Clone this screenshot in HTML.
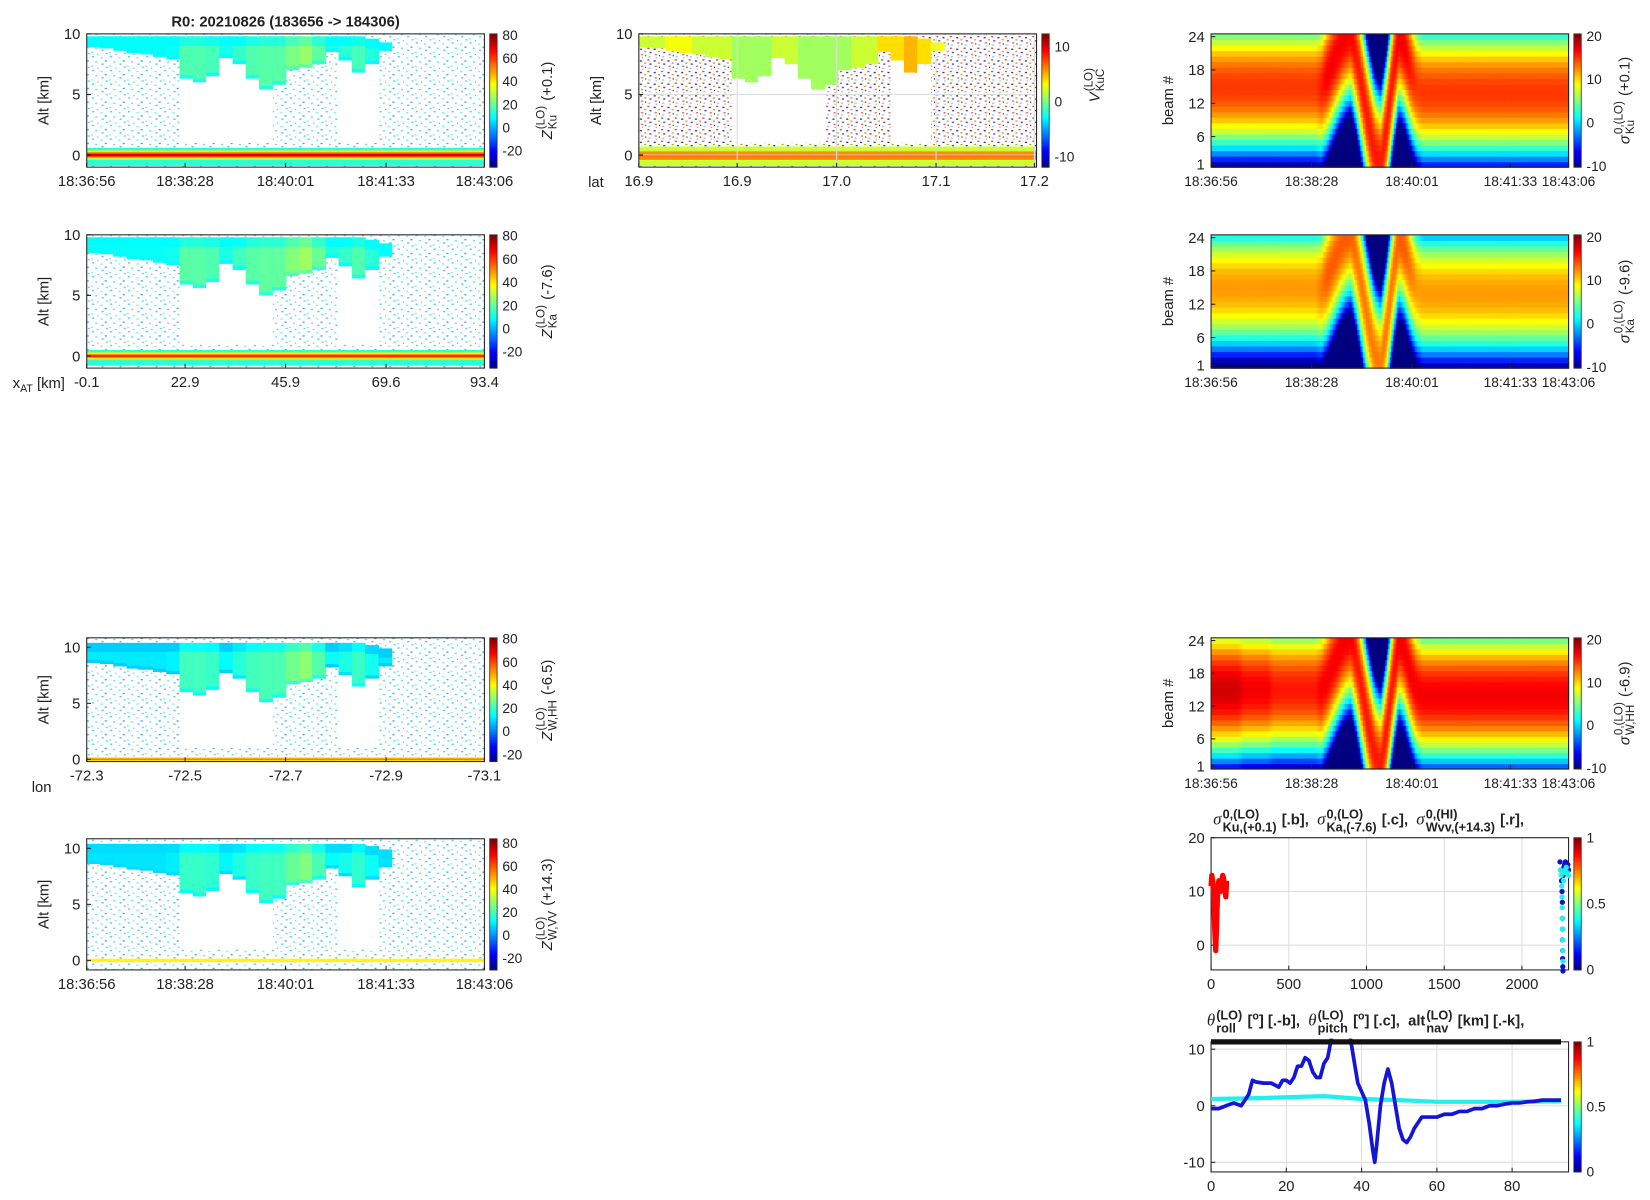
<!DOCTYPE html>
<html><head><meta charset="utf-8"><style>
html,body{margin:0;padding:0;background:#fff;}
#wrap{position:relative;width:1650px;height:1200px;overflow:hidden;}
svg{display:block;position:absolute;left:0;top:0;font-family:"Liberation Sans",Arial,sans-serif;}
#ov{position:absolute;left:0;top:0;width:1560px;height:1135px;transform:scale(1.0577);transform-origin:0 0;font-family:"Liberation Sans",Arial,sans-serif;color:#222;font-size:14px;}
.lb{position:absolute;white-space:nowrap;line-height:1;}
.rot{transform:translate(-50%,-50%) rotate(-90deg);}
.st{display:inline-flex;flex-direction:column;font-size:11px;line-height:11px;vertical-align:middle;margin:0 1px;}
.ti{font-weight:bold;font-size:14px;transform:translate(0,-50%);}
.ti .st{font-size:12px;line-height:12px;}
.g{font-style:italic;font-weight:normal;font-family:"Liberation Serif",serif;font-size:16px;}
</style></head><body>
<div id="wrap">
<svg id="fig" width="1650" height="1200" viewBox="0 0 1560 1134.5" xmlns="http://www.w3.org/2000/svg">
<defs>
<pattern id="spk" width="17" height="13" patternUnits="userSpaceOnUse">
<rect x="2" y="1" width="2" height="1.2" fill="#3cf"/><rect x="10" y="2" width="2" height="1.2" fill="#6ee"/>
<rect x="14" y="5" width="2" height="1.2" fill="#39f"/><rect x="5" y="6" width="2" height="1.2" fill="#5dd"/>
<rect x="11" y="8" width="2" height="1.2" fill="#4bf"/><rect x="1" y="10" width="2" height="1.2" fill="#7ee"/>
<rect x="15" y="11" width="2" height="1.2" fill="#5cf"/><rect x="7" y="12" width="1" height="1" fill="#2af"/>
</pattern>
<pattern id="vspk" width="13" height="11" patternUnits="userSpaceOnUse">
<rect x="1" y="1" width="2" height="1.2" fill="#d33"/><rect x="7" y="2" width="2" height="1.2" fill="#22a"/>
<rect x="11" y="4" width="2" height="1.2" fill="#c90"/><rect x="3" y="5" width="2" height="1.2" fill="#33c"/>
<rect x="8" y="7" width="2" height="1.2" fill="#e55"/><rect x="12" y="8" width="1" height="1.2" fill="#118"/>
<rect x="2" y="9" width="2" height="1.2" fill="#9bd"/><rect x="9" y="10" width="1" height="1" fill="#5a5"/>
</pattern>
</defs>
<g id="marks"></g>
</svg>
<div id="ov">
<div class="lb" style="left:270px;top:13px;transform:translateX(-50%);font-weight:bold;font-size:14px;">R0:  20210826 (183656 -&gt; 184306)</div>
<div class="lb rot" style="left:518px;top:95px;"><i>Z</i><span class="st"><span>(LO)</span><span>Ku</span></span> (+0.1)</div>
<div class="lb rot" style="left:518px;top:285px;"><i>Z</i><span class="st"><span>(LO)</span><span>Ka</span></span> (-7.6)</div>
<div class="lb rot" style="left:518px;top:662px;"><i>Z</i><span class="st"><span>(LO)</span><span>W,HH</span></span> (-6.5)</div>
<div class="lb rot" style="left:518px;top:855px;"><i>Z</i><span class="st"><span>(LO)</span><span>W,VV</span></span> (+14.3)</div>
<div class="lb rot" style="left:1036px;top:80px;"><i>V</i><span class="st"><span>(LO)</span><span>KuC</span></span></div>
<div class="lb rot" style="left:1537px;top:95px;"><i>σ</i><span class="st"><span>0,(LO)</span><span>Ku</span></span> (+0.1)</div>
<div class="lb rot" style="left:1537px;top:285px;"><i>σ</i><span class="st"><span>0,(LO)</span><span>Ka</span></span> (-9.6)</div>
<div class="lb rot" style="left:1537px;top:665px;"><i>σ</i><span class="st"><span>0,(LO)</span><span>W,HH</span></span> (-6.9)</div>
<div class="lb" style="left:12px;top:355px;">x<sub style="font-size:10px">AT</sub> [km]</div>
<div class="lb" style="left:30px;top:737px;">lon</div>
<div class="lb" style="left:556px;top:165px;">lat</div>
<div class="lb ti" style="left:1147px;top:776px;"><span class="g">σ</span><span class="st"><span>0,(LO)</span><span>Ku,(+0.1)</span></span> [.b],&nbsp; <span class="g">σ</span><span class="st"><span>0,(LO)</span><span>Ka,(-7.6)</span></span> [.c],&nbsp; <span class="g">σ</span><span class="st"><span>0,(HI)</span><span>Wvv,(+14.3)</span></span> [.r],</div>
<div class="lb ti" style="left:1141px;top:966px;"><span class="g">θ</span><span class="st"><span>(LO)</span><span>roll</span></span> [<sup style="font-size:10px">o</sup>] [.-b],&nbsp; <span class="g">θ</span><span class="st"><span>(LO)</span><span>pitch</span></span> [<sup style="font-size:10px">o</sup>] [.c],&nbsp; alt<span class="st"><span>(LO)</span><span>nav</span></span> [km] [.-k],</div>
</div>
</div>
<script>
// ---------- data ----------
const timeTicks = ['18:36:56','18:38:28','18:40:01','18:41:33','18:43:06'];
const xatTicks = ['-0.1','22.9','45.9','69.6','93.4'];
const lonTicks = ['-72.3','-72.5','-72.7','-72.9','-73.1'];
const latTicks = ['16.9','16.9','17.0','17.1','17.2'];
const cloudTop  = [9.8,9.8,9.8,9.8,9.8,9.8,9.8,9.8,9.8,9.8,9.8,9.8,9.8,9.8,9.8,9.8,9.8,9.8,9.8,9.8,9.8,9.6,9.3,0,0,0,0,0,0,0];
const cloudBase = [8.9,8.8,8.6,8.4,8.3,8.1,7.9,6.3,6.0,6.5,8.0,7.5,6.3,5.4,5.8,7.0,7.2,7.5,8.5,7.8,6.8,7.5,8.6,0,0,0,0,0,0,0];
const cloudDbz  = [9,9,9,9,9,9,10,18,18,17,11,15,18,19,19,23,26,20,12,14,17,13,9,0,0,0,0,0,0,0];
const clearGap  = [0,0,0,0,0,0,0,1,1,1,1,1,1,1,0,0,0,0,0,1,1,1,0,0,0,0,0,0,0,0];
const cloudVel  = [2,2,3,3,2,2,2,1,1,1,2,2,1,1,1,1,2,2,4,4,5,4,3,0,0,0,0,0,0,0];
const nadirBeam = [15,15,15,15,15,15,15,15,15,15,15,15,15,15,15,15,15,15,15,17,19.5,22,24,25,20,14,8,3,1,8,17,24,22,18,15,14,14,14,14,14,14,14,14,14,14,14,14,14,14,14,14,14,14,14,14,14,14,14,14,14];
const peakKu = [15,15,15,15,15,15,15,15,15,15,15,15,15,15,15,15,15,15,16,17,17,17,17,17,16,16,16,16,16,16,16,17,17,16,15,15,15,15,15,15,15,15,15,15,15,15,15,15,15,15,15,15,15,15,15,15,15,15,15,15];
const peakKa = [12,12,12,12,12,12,12,12,12,12,12,12,12,12,12,12,12,12,13,14,14,14,14,14,13,13,13,13,13,13,13,14,14,13,12,12,12,12,12,12,12,12,12,12,12,12,12,12,12,12,12,12,12,12,12,12,12,12,12,12];
const peakW  = [18,18,18,18,18,17,17,17,17,17,16,16,16,16,16,16,16,16,17,17,17,17,17,17,16,16,16,16,16,16,16,17,17,17,17,17,17,17,17,17,17,17,17,17,17,17,17,17,17,17,17,17,17,17,17,17,17,17,17,17];
const beamTicks = [1,6,12,18,24];
const sigRedX = [0,5,10,15,20,25,30,35,40,45,50,55,60,65,70,75,80,85,90,95,100];
const sigRedY = [11,13,12,10,6,2,-1,3,8,11,12,11,10,11,12,13,12.5,11,10,9,12];
const sigBlueX = [2245,2250,2255,2258,2260,2260,2261,2261,2262,2262,2263,2264,2265,2270,2275,2280,2285,2290,2295,2300];
const sigBlueY = [15.5,14,12,10,8,5,3,1,-1,-2.5,-4,-4.8,13,14.5,15,15.5,15,14.5,15,14];
const sigCyanX = [2248,2252,2256,2258,2259,2260,2261,2262,2263,2264,2268,2272,2278,2285,2292,2300];
const sigCyanY = [14,13,11,9,7,5,3,1,-1,-3,12,13.5,14,14.5,13.5,13];
const rollX = [0,2,4,6,8,9,10,11,12,14,16,18,19,20,21,22,23,24,25,26,27,28,29,30,31,32,33,35,36,37,38,39,40,41,42,43,43.5,44,45,46,47,48,49,50,51,52,53,54,55,56,58,60,62,64,66,68,70,72,74,76,78,80,82,84,86,88,90,93];
const rollY = [-0.5,-0.5,0,0.5,0,1,2,4.5,4.2,4,4,3.3,4.5,4.5,4,5,7,7,8.5,8,6,5,5,7.5,8.5,12,16,18,16,12,8,4,2.5,1,-3,-8,-10,-7,0,4,6.5,4,0,-4,-6,-6.5,-5.5,-4,-3,-2,-2,-2,-1.5,-1.5,-1,-1,-0.5,-0.5,0,0,0.3,0.5,0.5,0.7,0.8,1,1,1];
const pitchX = [0,10,20,30,40,50,60,70,80,93];
const pitchY = [1.2,1.3,1.5,1.7,1.2,1.0,0.7,0.7,0.7,0.8];
const altX = [0,93];
const altY = [11.3,11.3];

// ---------- helpers ----------
const NS='http://www.w3.org/2000/svg';
const root=document.getElementById('marks');
function mk(tag,a,p){const e=document.createElementNS(NS,tag);for(const k in a)e.setAttribute(k,a[k]);(p||root).appendChild(e);return e;}
function jet(t){t=Math.max(0,Math.min(1,t));const c=v=>Math.round(255*Math.max(0,Math.min(1,v)));
 return 'rgb('+c(Math.min(4*t-1.5,-4*t+4.5))+','+c(Math.min(4*t-0.5,-4*t+3.5))+','+c(Math.min(4*t+0.5,-4*t+2.5))+')';}
function lin(d0,d1,r0,r1){return v=>r0+(v-d0)/(d1-d0)*(r1-r0);}

function colorbar(x,y0,y1,cmin,cmax,ticks,name){
 const n=64,h=(y1-y0)/n;
 for(let i=0;i<n;i++){const r=mk('rect',{x:x,y:y1-(i+1)*h,width:7,height:h+0.5,fill:jet((i+0.5)/n)});
  
  }
 const b=mk('rect',{x:x,y:y0,width:7,height:y1-y0,fill:'none',stroke:'#333','stroke-width':0.8});
 
 
 const s=lin(cmin,cmax,y1,y0);
 ticks.forEach(v=>{const t=mk('text',{x:x+12,y:s(v)+4.5,'font-size':13,fill:'#222'});t.textContent=v;
  
  });
}
function axesFrame(x0,y0,x1,y1,name,yticks,ys,xpos,xlabels,ylabel,grid,xfs){
 if(grid){xpos.forEach(px=>{const g=mk('line',{x1:px,x2:px,y1:y0,y2:y1,stroke:'#ddd','stroke-width':1});
   
   });
  yticks.forEach(v=>{const g=mk('line',{x1:x0,x2:x1,y1:ys(v),y2:ys(v),stroke:'#ddd','stroke-width':1});
   
   });}
 const f=mk('rect',{x:x0,y:y0,width:x1-x0,height:y1-y0,fill:'none',stroke:'#222','stroke-width':1});
 
 
 yticks.forEach(v=>{const y=ys(v);
  const l=mk('line',{x1:x0,x2:x0+4,y1:y,y2:y,stroke:'#222'});
  
  
  const t=mk('text',{x:x0-6,y:y+5,'font-size':14,'text-anchor':'end',fill:'#222'});t.textContent=v;
  
  });
 xpos.forEach((px,i)=>{const l=mk('line',{x1:px,x2:px,y1:y1,y2:y1-4,stroke:'#222'});
  
  
  const t=mk('text',{x:px,y:y1+18,'font-size':xfs||14,'text-anchor':'middle',fill:'#222'});t.textContent=xlabels[i];
  
  });
 if(ylabel){const t=mk('text',{transform:'translate('+(x0-36)+','+((y0+y1)/2)+') rotate(-90)','font-size':14,'text-anchor':'middle',fill:'#222'});t.textContent=ylabel;
  
  }
}

// ---------- radar panels ----------
function radarPanel(o){
 const {x0,y0,x1,y1,ymin,ymax,cmin,cmax,name}=o;
 const xs=lin(0,cloudTop.length,x0,x1), ys=lin(ymin,ymax,y1,y0), cs=v=>jet((v-cmin)/(cmax-cmin));
 const sp=mk('rect',{x:x0,y:y0,width:x1-x0,height:y1-y0,fill:o.vel?'url(#vspk)':'url(#spk)'});
 
 
 const n=cloudTop.length;
 for(let i=0;i<n;i++){
  if(clearGap[i]){const g=mk('rect',{x:xs(i),y:ys(cloudBase[i]||8),width:xs(i+1)-xs(i)+0.5,height:ys(1)-ys(cloudBase[i]||8),fill:'#fff'});
   
   }
  if(cloudTop[i]>0){
   const top=Math.min(cloudTop[i]+o.topAdd,ymax), base=cloudBase[i]-o.baseSub;
   const val=o.vel?cloudVel[i]:cloudDbz[i]+o.dOff;
   const c=mk('rect',{x:xs(i),y:ys(top),width:xs(i+1)-xs(i)+0.6,height:ys(base)-ys(top),fill:o.vel?cs(val):cs(Math.max(9,val-6))});
   
   
   if(top-base>1.2){const c2=mk('rect',{x:xs(i),y:ys(top-0.8),width:xs(i+1)-xs(i)+0.6,height:ys(base+0.3)-ys(top-0.8),fill:cs(val)});
    
    }
  }
 }
 o.band.forEach(b=>{const r=mk('rect',{x:x0,y:ys(b[1]),width:x1-x0,height:ys(b[0])-ys(b[1]),fill:cs(b[2])});
  
  });
 return {ys};
}
const tpos=[82,175,270,365,458];
function addRadar(o,ticks,xlabels){
 const r=radarPanel(o);
 axesFrame(o.x0,o.y0,o.x1,o.y1,o.name,[0,5,10],r.ys,o.xpos||tpos,xlabels,'Alt [km]',o.grid);
 colorbar(o.x1+5,o.y0,o.y1,o.cmin,o.cmax,ticks,o.name+'-colorbar');
}
addRadar({name:'zku',x0:82,y0:32,x1:458,y1:158,ymin:-1,ymax:10,cmin:-34,cmax:81,topAdd:0,baseSub:0,dOff:0,band:[[-0.9,0.6,14],[-0.4,0.4,30],[-0.25,0.25,50],[-0.12,0.12,70]]},[80,60,40,20,0,-20],timeTicks);
addRadar({name:'zka',x0:82,y0:222,x1:458,y1:348,ymin:-1,ymax:10,cmin:-34,cmax:81,topAdd:0,baseSub:0.4,dOff:1,band:[[-0.8,0.5,14],[-0.3,0.3,40],[-0.12,0.12,62]]},[80,60,40,20,0,-20],xatTicks);
addRadar({name:'zwhh',x0:82,y0:603,x1:458,y1:720,ymin:-0.2,ymax:10.85,cmin:-26,cmax:81,topAdd:0.6,baseSub:0.3,dOff:3,band:[[-0.2,0.2,42],[-0.08,0.08,55]]},[80,60,40,20,0,-20],lonTicks);
addRadar({name:'zwvv',x0:82,y0:793,x1:458,y1:917,ymin:-0.85,ymax:10.85,cmin:-30,cmax:84,topAdd:0.6,baseSub:0.3,dOff:1,band:[[-0.15,0.15,42]]},[80,60,40,20,0,-20],timeTicks);
addRadar({name:'vkuc',vel:true,grid:true,xpos:[604,697,791,885,978],x0:604,y0:32,x1:980,y1:158,ymin:-1,ymax:10,cmin:-11.9,cmax:12.3,topAdd:0,baseSub:0,dOff:0,band:[[-0.9,0.7,2],[-0.4,0.3,6],[-0.1,0.05,8]]},[10,0,-10],latTicks);

// ---------- beam panels ----------
function beamPanel(name,y0,y1,peaks,cmin,cmax){
 const x0=1145,x1=1483,n=nadirBeam.length,sub=4,m=n*sub;
 const xs=lin(0,m,x0,x1), ys=lin(0.5,24.5,y1,y0);
 for(let j=0;j<m;j++){
  const f=(j+0.5)/sub-0.5, i0=Math.max(0,Math.min(n-1,Math.floor(f))), i1=Math.min(n-1,i0+1), w=Math.max(0,Math.min(1,f-i0));
  const c=nadirBeam[i0]*(1-w)+nadirBeam[i1]*w, pk=peaks[i0]*(1-w)+peaks[i1]*w;
  for(let b=1;b<=24;b++){
   const d=b-c; const v=pk-0.12*d*d;
   const r=mk('rect',{x:xs(j),y:ys(b+0.5),width:xs(j+1)-xs(j)+0.6,height:ys(b-0.5)-ys(b+0.5)+0.6,fill:jet((v-cmin)/(cmax-cmin))});
   
   
  }
 }
 axesFrame(x0,y0,x1,y1,name,beamTicks,ys,[1145,1240,1335,1428,1483],timeTicks,'beam #',false,13);
 colorbar(x1+5,y0,y1,cmin,cmax,[20,10,0,-10],name+'-colorbar');
}
beamPanel('sigma-ku',32,158,peakKu,-10.2,20.5);
beamPanel('sigma-ka',222,348,peakKa,-10.2,20.5);
beamPanel('sigma-whh',603,727,peakW,-10.2,20.5);

// ---------- sigma line chart ----------
(function(){
 const x0=1145,x1=1483,y0=792,y1=917;
 const xs=lin(0,2300,x0,x1), ys=lin(-4.6,20,y1,y0);
 axesFrame(x0,y0,x1,y1,'sigma-line',[0,10,20],ys,[0,500,1000,1500,2000].map(xs),['0','500','1000','1500','2000'],null,true);
 const pr=mk('polyline',{points:sigRedX.map((x,i)=>xs(x)+','+ys(sigRedY[i])).join(' '),fill:'none',stroke:'#f00','stroke-width':5,'stroke-linejoin':'round'});
 
 
 sigBlueX.forEach((x,i)=>{const c=mk('circle',{cx:xs(x),cy:ys(sigBlueY[i]),r:2.5,fill:'#11c'});
  
  });
 sigCyanX.forEach((x,i)=>{const c=mk('circle',{cx:xs(x),cy:ys(sigCyanY[i]),r:2.5,fill:'#2ee'});
  
  });
 colorbar(x1+5,y0,y1,0,1,[1,0.5,0],'sigma-line-colorbar');
})();

// ---------- attitude line chart ----------
(function(){
 const x0=1145,x1=1483,y0=985,y1=1108;
 const xs=lin(0,95,x0,x1), ys=lin(-11.7,11.3,y1,y0);
 axesFrame(x0,y0,x1,y1,'attitude',[-10,0,10],ys,[0,20,40,60,80].map(xs),['0','20','40','60','80'],null,true);
 const cp=mk('clipPath',{id:'attclip'});
 
 
 mk('rect',{x:x0,y:y0-3,width:x1-x0,height:y1-y0+3},cp);
 const pp=mk('polyline',{points:pitchX.map((x,i)=>xs(x)+','+ys(pitchY[i])).join(' '),fill:'none',stroke:'#2ee','stroke-width':4,'clip-path':'url(#attclip)'});
 
 
 const pr=mk('polyline',{points:rollX.map((x,i)=>xs(x)+','+ys(rollY[i])).join(' '),fill:'none',stroke:'#1515d8','stroke-width':3.5,'stroke-linejoin':'round','clip-path':'url(#attclip)'});
 
 
 const pa=mk('polyline',{points:altX.map((x,i)=>xs(x)+','+ys(altY[i])).join(' '),fill:'none',stroke:'#111','stroke-width':5});
 
 
 colorbar(x1+5,y0,y1,0,1,[1,0.5,0],'attitude-colorbar');
})();
</script>
</body></html>
